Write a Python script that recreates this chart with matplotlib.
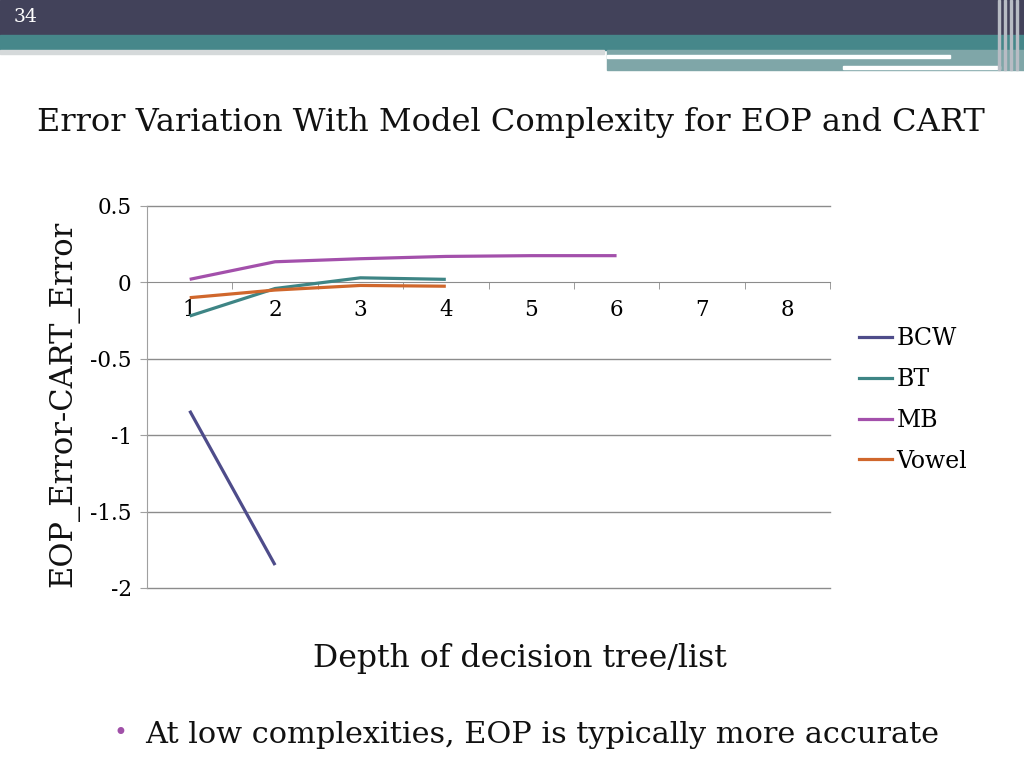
import matplotlib
matplotlib.use("Agg")
import matplotlib.pyplot as plt
from matplotlib.patches import Rectangle
from matplotlib.lines import Line2D

depths = [1, 2, 3, 4, 5, 6, 7, 8]
bcw = [-0.84, -1.85]
bt = [-0.22, -0.04, 0.03, 0.02]
mb = [0.02, 0.135, 0.155, 0.17, 0.175, 0.175]
vowel = [-0.10, -0.05, -0.02, -0.025]
series_names = ["BCW", "BT", "MB", "Vowel"]
colors = ["#4E4C8A", "#3E8585", "#A350AB", "#D0672C"]
yticks = [0.5, 0, -0.5, -1, -1.5, -2]
ytick_labels = ["0.5", "0", "-0.5", "-1", "-1.5", "-2"]

FONT = "DejaVu Serif"
plt.rcParams['font.family'] = [FONT]

W, H = 1024, 768
fig = plt.figure(figsize=(W / 100, H / 100), dpi=100)

def fx(x):
    return x / W

def fy(y):
    return 1 - y / H

# Header decoration
fig.patches.append(Rectangle((0, fy(35)), 1, 35 / H, transform=fig.transFigure,
                             color="#42425A", zorder=0))
fig.patches.append(Rectangle((0, fy(50)), 1, 15 / H, transform=fig.transFigure,
                             color="#46878A", zorder=0))
fig.patches.append(Rectangle((0, fy(54)), 0.59, 4 / H, transform=fig.transFigure,
                             color="#D5D9DA", zorder=0))
fig.patches.append(Rectangle((fx(607), fy(70)), fx(1024 - 607), 20 / H, transform=fig.transFigure,
                             color="#7FA6A8", zorder=0))
fig.patches.append(Rectangle((fx(607), fy(58)), fx(950 - 607), 2.5 / H, transform=fig.transFigure,
                             color="white", zorder=1))
fig.patches.append(Rectangle((fx(843), fy(69)), fx(1000 - 843), 2.5 / H, transform=fig.transFigure,
                             color="white", zorder=1))
for xv in [998, 1004, 1010, 1016]:
    fig.patches.append(Rectangle((fx(xv), fy(70)), 2 / W, 70 / H, transform=fig.transFigure,
                                 color="#B8BCC4", zorder=1))
fig.text(fx(14), fy(17), "34", color="white", fontsize=13.5, va="center", ha="left",
         family=FONT)

# Title
fig.text(fx(511), fy(122), "Error Variation With Model Complexity for EOP and CART",
         fontsize=23, ha="center", va="center", color="#111111")

# Axes
ax = fig.add_axes([fx(147), fy(588), fx(830 - 147), (588 - 206) / H])
series = [bcw, bt, mb, vowel]
for name, vals, c in zip(series_names, series, colors):
    ax.plot(depths[:len(vals)], vals, color=c, lw=2.3, label=name, solid_capstyle="butt",
            zorder=3)

ax.set_xlim(0.5, 8.5)
ax.set_ylim(-2, 0.5)
ax.set_yticks(yticks)
ax.set_yticklabels(ytick_labels, fontsize=15.5)
for yv in yticks:
    if yv != 0:
        ax.axhline(yv, color="#8C8C8C", lw=1, zorder=1, clip_on=False)
for s in ["top", "right"]:
    ax.spines[s].set_visible(False)
ax.spines["left"].set_color("#A0A0A0")
ax.spines["bottom"].set_position(("data", 0))
ax.spines["bottom"].set_color("#8C8C8C")
ax.set_xticks(depths)
ax.set_xticklabels([str(d) for d in depths], fontsize=15.5)
ax.set_xticks([d + 0.5 for d in range(0, 9)], minor=True)
ax.tick_params(axis="x", which="major", length=0, pad=12)
ax.tick_params(axis="x", which="minor", length=5, color="#8C8C8C", direction="out")
ax.tick_params(axis="y", length=5, color="#A0A0A0", pad=6)

# Axis labels as figure text
fig.text(fx(64), fy(404), "EOP_Error-CART_Error", rotation=90, fontsize=22,
         ha="center", va="center", color="#111111")
fig.text(fx(520), fy(658), "Depth of decision tree/list", fontsize=22.7,
         ha="center", va="center", color="#111111")

# Legend
handles = [Line2D([], [], color=c, lw=2.3) for c in colors]
fig.legend(handles, series_names, loc="upper left", bbox_to_anchor=(fx(850), fy(318)),
           frameon=False, fontsize=17, handlelength=1.36, handletextpad=0.22,
           labelspacing=0.75, borderaxespad=0)

# Bullet
fig.text(fx(120), fy(733), "\u2022", fontsize=17, color="#A050A8", ha="center", va="center")
fig.text(fx(145), fy(735), "At low complexities, EOP is typically more accurate",
         fontsize=21.9, ha="left", va="center", color="#111111")

fig.savefig("out.png", dpi=100)
